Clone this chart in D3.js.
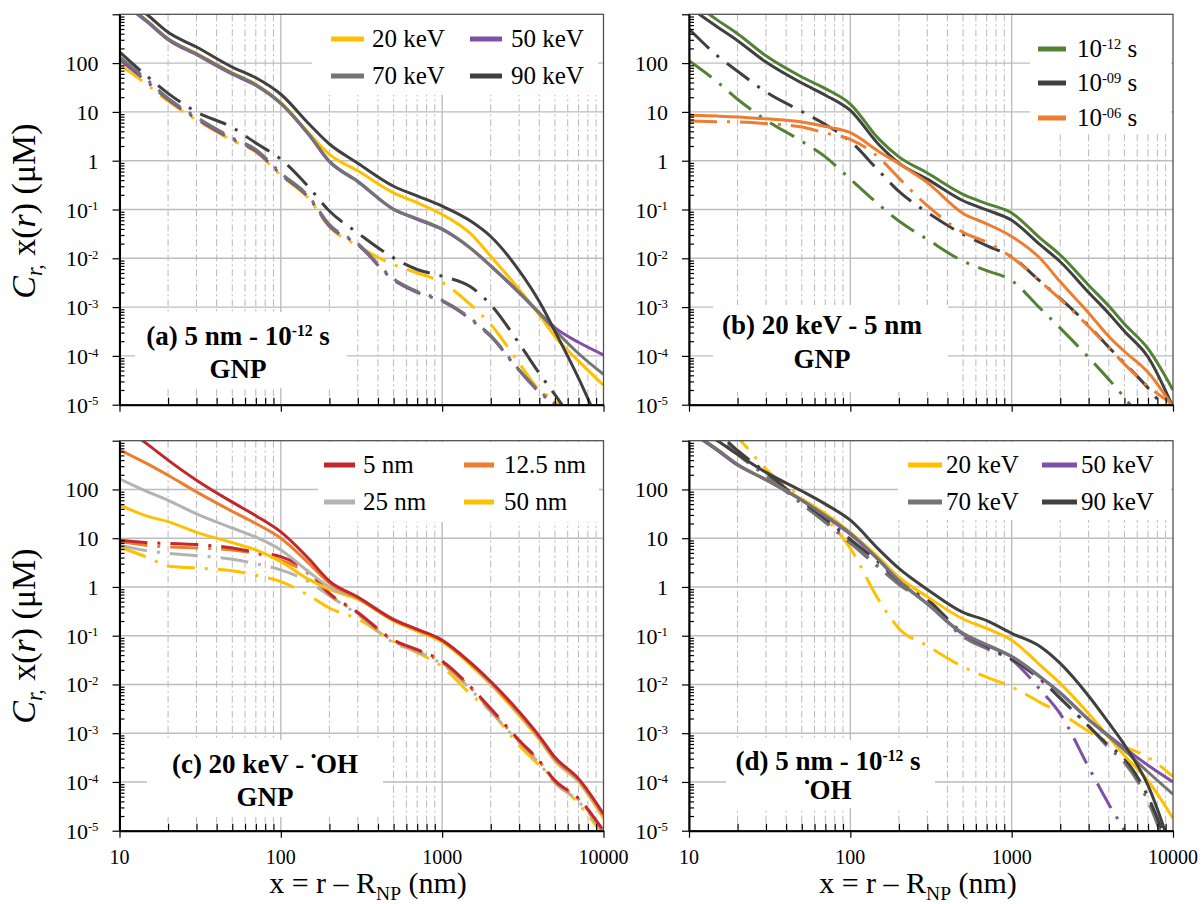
<!DOCTYPE html>
<html><head><meta charset="utf-8">
<script src="https://cdn.jsdelivr.net/npm/d3@7"></script>
</head><body style="margin:0;background:#fff">
<svg id="chart" width="1201" height="904"></svg>
<script>
// ---------------- DATA ----------------
const xValues = [10, 15, 20, 30, 50, 70, 100, 150, 200, 300, 500, 700, 1000, 1500, 2000, 3000, 4000, 5000, 7000, 10000];
const xTickValues = [10, 100, 1000, 10000];
const xTickLabels = ["10", "100", "1000", "10000"];
const yTickValues = [1e-5, 1e-4, 1e-3, 1e-2, 1e-1, 1, 10, 100];
const yTickLabels = [["10","-5"], ["10","-4"], ["10","-3"], ["10","-2"], ["10","-1"], ["1"], ["10"], ["100"]];

// (a) 5 nm - 1e-12 s, GNP : energies
const aSolid20 = [2000, 710, 316, 158, 63, 37, 15.5, 3.6, 1.35, 0.62, 0.22, 0.138, 0.079, 0.032, 0.011, 0.0023, 6.9e-4, 2.5e-4, 7.9e-5, 2.5e-5];
const aSolid50 = [1900, 676, 302, 148, 59, 35, 14.8, 3.3, 0.95, 0.37, 0.10, 0.063, 0.039, 0.016, 0.0069, 0.00195, 7.6e-4, 3.8e-4, 1.9e-4, 1.05e-4];
const aSolid70 = [2000, 708, 316, 155, 62, 36, 15.1, 3.4, 0.98, 0.38, 0.102, 0.065, 0.040, 0.0162, 0.0071, 0.0020, 7.6e-4, 3.4e-4, 1.12e-4, 4.2e-5];
const aSolid90 = [2690, 955, 427, 214, 83, 50, 23, 5.6, 2.2, 0.89, 0.30, 0.19, 0.117, 0.058, 0.028, 0.0056, 0.0013, 3.2e-4, 3.5e-5, 2.5e-6];
const aDash20 = [93, 35, 16.6, 6.8, 2.6, 1.5, 0.50, 0.162, 0.044, 0.018, 0.0074, 0.0050, 0.0032, 0.00112, 4.4e-4, 7.1e-5, 2.0e-5, 1.26e-5, 4e-6, 1e-6];
const aDash50 = [117, 40, 17.8, 7.2, 2.75, 1.58, 0.52, 0.17, 0.046, 0.019, 0.0036, 0.0020, 0.00132, 5.6e-4, 2.5e-4, 5.0e-5, 1.8e-5, 1.0e-5, 3.2e-6, 1e-6];
const aDash70 = [135, 44, 19, 7.8, 2.95, 1.7, 0.56, 0.18, 0.049, 0.020, 0.0038, 0.0021, 0.00138, 5.9e-4, 2.6e-4, 5.2e-5, 1.9e-5, 1.05e-5, 3.2e-6, 1e-6];
const aDash90 = [170, 52, 24, 10, 4.8, 2.3, 1.07, 0.28, 0.093, 0.033, 0.0102, 0.0059, 0.0043, 0.0026, 0.00112, 1.8e-4, 4.4e-5, 1.6e-5, 3.2e-6, 6.3e-7];

// (b) 20 keV - 5 nm, GNP : times
const bSolid12 = [2000, 760, 400, 141, 52, 30, 14.5, 2.8, 1.2, 0.56, 0.204, 0.132, 0.085, 0.026, 0.0117, 0.0028, 0.00105, 4.5e-4, 1.41e-4, 2.0e-5];
const bSolid09 = [1410, 550, 288, 105, 39, 22, 10.7, 2.14, 0.89, 0.42, 0.151, 0.098, 0.060, 0.019, 0.0085, 0.0020, 7.4e-4, 3.2e-4, 9.5e-5, 8.9e-6];
const bSolid06 = [8.5, 8.2, 7.9, 7.2, 6.2, 5.0, 3.76, 1.55, 0.87, 0.355, 0.083, 0.051, 0.028, 0.010, 0.0033, 7.6e-4, 2.5e-4, 1.23e-4, 4.6e-5, 8.9e-6];
const bDash12 = [112, 41, 18.2, 6.8, 2.5, 1.2, 0.42, 0.126, 0.058, 0.0245, 0.0087, 0.0056, 0.0035, 9.5e-4, 3.7e-4, 9.3e-5, 3.3e-5, 1.4e-5, 3.2e-6, 5e-7];
const bDash09 = [500, 141, 68, 25.7, 10.2, 5.5, 2.5, 0.62, 0.234, 0.087, 0.031, 0.0182, 0.0107, 0.0034, 0.00151, 4.2e-4, 1.51e-4, 7.1e-5, 2.2e-5, 5e-6];
const bDash06 = [6.5, 6.3, 6.2, 5.75, 4.9, 3.7, 2.75, 1.17, 0.44, 0.12, 0.034, 0.0214, 0.0105, 0.0034, 0.00145, 4.0e-4, 1.48e-4, 6.8e-5, 2.4e-5, 1.0e-5];

// (c) 20 keV - OH, GNP : radii
const cSolid5 = [2240, 830, 400, 155, 55, 29, 13.5, 3.7, 1.32, 0.62, 0.214, 0.135, 0.081, 0.028, 0.0115, 0.00275, 8.7e-4, 3.2e-4, 1.17e-4, 2.2e-5];
const cSolid12 = [650, 330, 195, 89, 35.5, 20, 10, 3.0, 1.2, 0.59, 0.209, 0.132, 0.079, 0.027, 0.011, 0.0026, 8.3e-4, 3.0e-4, 1.12e-4, 2.1e-5];
const cSolid25 = [166, 89, 60, 31.6, 16.2, 10.5, 5.75, 2.0, 1.0, 0.60, 0.219, 0.135, 0.081, 0.0275, 0.0107, 0.0025, 7.9e-4, 2.8e-4, 1.05e-4, 2.0e-5];
const cSolid50 = [48, 28, 21.9, 13.2, 8.1, 5.75, 3.3, 1.41, 0.89, 0.56, 0.20, 0.123, 0.074, 0.025, 0.010, 0.0023, 7.4e-4, 2.7e-4, 1.0e-4, 1.8e-5];
const cDash5 = [9.1, 8.1, 7.8, 7.4, 6.3, 5.1, 4.2, 2.0, 0.74, 0.30, 0.081, 0.052, 0.030, 0.0089, 0.0032, 7.2e-4, 2.7e-4, 1.07e-4, 4.6e-5, 1.0e-5];
const cDash12 = [8.5, 7.1, 6.6, 6.3, 5.75, 4.8, 3.55, 1.78, 0.71, 0.29, 0.078, 0.050, 0.028, 0.0085, 0.0030, 6.9e-4, 2.6e-4, 1.02e-4, 4.4e-5, 9.5e-6];
const cDash25 = [7.2, 5.5, 4.9, 4.4, 3.7, 3.0, 2.24, 1.26, 0.66, 0.27, 0.072, 0.047, 0.026, 0.0079, 0.0028, 6.5e-4, 2.4e-4, 9.5e-5, 4.0e-5, 8.9e-6];
const cDash50 = [6.6, 4.0, 2.7, 2.45, 2.14, 1.74, 1.29, 0.66, 0.37, 0.22, 0.076, 0.045, 0.023, 0.0063, 0.0028, 5.6e-4, 2.2e-4, 1.1e-4, 3.6e-5, 7.9e-6];

// (d) 5 nm - 1e-12 s, OH : energies
const dSolid20 = [1580, 660, 316, 158, 63, 32, 13.2, 4.0, 1.58, 0.63, 0.22, 0.141, 0.081, 0.025, 0.0105, 0.0025, 8.3e-4, 3.5e-4, 1.05e-4, 1.8e-5];
const dSolid50 = [1580, 630, 316, 158, 60, 28, 12, 3.55, 1.32, 0.45, 0.107, 0.063, 0.037, 0.0141, 0.0066, 0.0019, 8.9e-4, 5.0e-4, 2.2e-4, 1.0e-4];
const dSolid70 = [1660, 660, 330, 158, 60, 29, 12.6, 3.6, 1.35, 0.45, 0.112, 0.066, 0.038, 0.0145, 0.0068, 0.0019, 8.5e-4, 4.5e-4, 1.6e-4, 5.6e-5];
const dSolid90 = [2240, 1000, 525, 224, 93, 50, 23.4, 5.9, 2.4, 0.89, 0.30, 0.204, 0.112, 0.060, 0.027, 0.0058, 0.00162, 5.8e-4, 8.5e-5, 3.2e-6];
const dDash20 = [7900, 2800, 1170, 263, 66, 26, 6.2, 0.54, 0.141, 0.062, 0.023, 0.0141, 0.0089, 0.0043, 0.0026, 0.0011, 6.6e-4, 5.2e-4, 3.2e-4, 1.29e-4];
const dDash50 = [4000, 1410, 560, 200, 52, 22, 8.3, 2.6, 1.17, 0.5, 0.1, 0.056, 0.032, 0.0079, 0.0025, 2.0e-4, 3.5e-5, 1.0e-5, 1e-6, 1e-7];
const dDash70 = [4000, 1320, 525, 190, 50, 21, 7.9, 2.5, 1.12, 0.48, 0.095, 0.054, 0.032, 0.0126, 0.0052, 0.0014, 5.0e-4, 2.5e-4, 4.0e-5, 1.6e-6];
const dDash90 = [4500, 1500, 630, 224, 58, 25, 9.5, 3.2, 1.32, 0.56, 0.112, 0.060, 0.033, 0.0132, 0.0052, 0.0014, 5.6e-4, 3.0e-4, 5.0e-5, 2.5e-6];

// ---------------- STYLE / LAYOUT ----------------
const FONT = "'Liberation Serif'";
const COL = {gold:"#FFC000", purple:"#7E50A6", grey:"#747474", dark:"#404040", green:"#548235", orange:"#ED7D31", red:"#C0282D", light:"#B3B3B3"};
const DASHDOT = "28,10,3,10";
const NOTE_SIZE = 27;

const panels = [
  {x0:119.5, x1:603.5, y0:14.3, y1:404.7, xLabels:false, yTitle:true, yTitleY:211,
   series:[[aDash20,"gold",1],[aDash50,"purple",1],[aDash70,"grey",1],[aDash90,"dark",1],
           [aSolid20,"gold",0],[aSolid50,"purple",0],[aSolid70,"grey",0],[aSolid90,"dark",0]],
   legendBox:[312,15,286,80],
   legend:[{p:[{t:"20 keV"}],c:"gold",x:331,y:39,len:33,gap:8},{p:[{t:"50 keV"}],c:"purple",x:470,y:39,len:32,gap:9},
           {p:[{t:"70 keV"}],c:"grey",x:331,y:76,len:33,gap:8},{p:[{t:"90 keV"}],c:"dark",x:470,y:76,len:32,gap:9}],
   noteBox:[135,312,212,76], noteX:238,
   note:[{y:345,p:[{t:"(a) 5 nm - 10"},{t:"-12",sup:1},{t:" s"}]},{y:378,p:[{t:"GNP"}]}]},
  {x0:689, x1:1173, y0:14.3, y1:404.7, xLabels:false, yTitle:false,
   series:[[bDash12,"green",1],[bDash09,"dark",1],[bDash06,"orange",1],
           [bSolid12,"green",0],[bSolid09,"dark",0],[bSolid06,"orange",0]],
   legendBox:[1030,15,141,118],
   legend:[{p:[{t:"10"},{t:"-12",sup:1},{t:" s"}],c:"green",x:1038,y:49,len:28,gap:11},
           {p:[{t:"10"},{t:"-09",sup:1},{t:" s"}],c:"dark",x:1038,y:83,len:28,gap:11},
           {p:[{t:"10"},{t:"-06",sup:1},{t:" s"}],c:"orange",x:1038,y:118,len:28,gap:11}],
   noteBox:[713,305,235,87], noteX:822,
   note:[{y:334,p:[{t:"(b) 20 keV - 5 nm"}]},{y:368,p:[{t:"GNP"}]}]},
  {x0:119.5, x1:603.5, y0:440.7, y1:830.7, xLabels:true, yTitle:true, yTitleY:636, xTitleX:368,
   series:[[cDash50,"gold",1],[cDash25,"light",1],[cDash12,"orange",1],[cDash5,"red",1],
           [cSolid50,"gold",0],[cSolid25,"light",0],[cSolid12,"orange",0],[cSolid5,"red",0]],
   legendBox:[318,442,281,80],
   legend:[{p:[{t:"5 nm"}],c:"red",x:324,y:465,len:31,gap:8},{p:[{t:"12.5 nm"}],c:"orange",x:464,y:465,len:30,gap:10},
           {p:[{t:"25 nm"}],c:"light",x:324,y:502,len:31,gap:8},{p:[{t:"50 nm"}],c:"gold",x:464,y:502,len:30,gap:10}],
   noteBox:[147,740,236,77], noteX:265,
   note:[{y:773,p:[{t:"(c) 20 keV - "},{t:"•",dot:1},{t:"OH"}]},{y:806,p:[{t:"GNP"}]}]},
  {x0:689, x1:1173, y0:440.7, y1:830.7, xLabels:true, yTitle:false, xTitleX:918,
   series:[[dDash20,"gold",1],[dDash50,"purple",1],[dDash70,"grey",1],[dDash90,"dark",1],
           [dSolid20,"gold",0],[dSolid50,"purple",0],[dSolid70,"grey",0],[dSolid90,"dark",0]],
   legendBox:[898,442,273,78],
   legend:[{p:[{t:"20 keV"}],c:"gold",x:908,y:465,len:34,gap:4},{p:[{t:"50 keV"}],c:"purple",x:1042,y:465,len:35,gap:4},
           {p:[{t:"70 keV"}],c:"grey",x:908,y:502,len:34,gap:4},{p:[{t:"90 keV"}],c:"dark",x:1042,y:502,len:35,gap:4}],
   noteBox:[726,740,209,68], noteX:828,
   note:[{y:770,p:[{t:"(d) 5 nm - 10"},{t:"-12",sup:1},{t:" s"}]},{y:799,p:[{t:"•",dot:1},{t:"OH"}]}]}
];

// ---------------- HELPERS ----------------
const svg = d3.select("#chart");
const gfx = svg.append("g");
function txt() {
  return svg.append("text").attr("font-family", FONT).style("font-family", FONT).attr("fill", "#000");
}
function rich(sel, parts, base) {
  let shift = 0;
  parts.forEach(p => {
    const ts = sel.append("tspan").attr("font-family", FONT).style("font-family", FONT).text(p.t);
    let target = 0, fs = base;
    if (p.sup) { target = -base * 0.33; fs = base * 0.58; }
    if (p.sub) { target = base * 0.22; fs = base * 0.65; }
    if (p.dot) { target = -base * 0.45; fs = base * 0.55; }
    ts.attr("font-size", fs);
    if (target !== shift) { ts.attr("dy", target - shift); shift = target; }
    if (p.it) ts.attr("font-style", "italic");
  });
}

const minorX = [];
[10, 100, 1000].forEach(d => { for (let k = 2; k <= 9; k++) minorX.push(d * k); });
const minorY = [];
[1e-5, 1e-4, 1e-3, 1e-2, 1e-1, 1, 10, 100].forEach(d => { for (let k = 2; k <= 9; k++) minorY.push(d * k); });

panels.forEach((P, i) => {
  const x = d3.scaleLog().domain([10, 10000]).range([P.x0, P.x1]);
  const y = d3.scaleLog().domain([1e-5, 1000]).range([P.y1, P.y0]);
  const g = gfx.append("g");

  g.append("g").selectAll("line").data(minorX).join("line")
    .attr("x1", d => x(d)).attr("x2", d => x(d)).attr("y1", P.y0).attr("y2", P.y1)
    .attr("stroke", "#b8b8b8").attr("stroke-width", 1).attr("stroke-dasharray", "7,3,2,3");
  g.append("g").selectAll("line").data([100, 1000]).join("line")
    .attr("x1", d => x(d)).attr("x2", d => x(d)).attr("y1", P.y0).attr("y2", P.y1)
    .attr("stroke", "#bdbdbd").attr("stroke-width", 1.4);
  g.append("g").selectAll("line").data([1e-4, 1e-3, 1e-2, 0.1, 1, 10, 100]).join("line")
    .attr("x1", P.x0).attr("x2", P.x1).attr("y1", d => y(d)).attr("y2", d => y(d))
    .attr("stroke", "#bdbdbd").attr("stroke-width", 1.4);

  [P.legendBox, P.noteBox].forEach(b => {
    g.append("rect").attr("x", b[0]).attr("y", b[1]).attr("width", b[2]).attr("height", b[3]).attr("fill", "#fff");
  });

  const clipId = "clip" + i;
  svg.append("clipPath").attr("id", clipId).append("rect")
    .attr("x", P.x0).attr("y", P.y0).attr("width", P.x1 - P.x0).attr("height", P.y1 - P.y0);
  const line = d3.line().x(d => x(d[0])).y(d => y(d[1])).curve(d3.curveMonotoneX);
  const dg = g.append("g").attr("clip-path", `url(#${clipId})`);
  P.series.forEach(([vals, c, dashed]) => {
    dg.append("path").datum(xValues.map((xv, k) => [xv, vals[k]]))
      .attr("d", line).attr("fill", "none").attr("stroke", COL[c]).attr("stroke-width", 3)
      .attr("stroke-dasharray", dashed ? DASHDOT : null);
  });

  g.append("rect").attr("x", P.x0).attr("y", P.y0).attr("width", P.x1 - P.x0).attr("height", P.y1 - P.y0)
    .attr("fill", "none").attr("stroke", "#505050").attr("stroke-width", 1.3);

  const xa = g.append("g").attr("transform", `translate(0,${P.y1})`)
    .call(d3.axisBottom(x).tickValues(xTickValues).tickSize(7).tickSizeOuter(0).tickFormat(""));
  const xm = g.append("g").attr("transform", `translate(0,${P.y1})`)
    .call(d3.axisBottom(x).tickValues(minorX).tickSize(-7).tickSizeOuter(0).tickFormat(""));
  xm.select(".domain").remove();
  const ya = g.append("g").attr("transform", `translate(${P.x0},0)`)
    .call(d3.axisLeft(y).tickValues(yTickValues.concat([1000])).tickSize(7).tickSizeOuter(0).tickFormat(""));
  const ym = g.append("g").attr("transform", `translate(${P.x0},0)`)
    .call(d3.axisLeft(y).tickValues(minorY).tickSize(-5).tickSizeOuter(0).tickFormat(""));
  ym.select(".domain").remove();
  [xa, ya].forEach(a => a.select(".domain").attr("stroke", "#000").attr("stroke-width", 2));
  [xa, xm, ya, ym].forEach(a => a.selectAll(".tick line").attr("stroke", "#000").attr("stroke-width", 1.2));

  yTickValues.forEach((v, k) => {
    const t = txt().attr("x", P.x0 - 21).attr("y", y(v) + 8).attr("text-anchor", "end").attr("font-size", 22);
    const lab = yTickLabels[k];
    rich(t, lab.length > 1 ? [{t: lab[0]}, {t: lab[1], sup: 1}] : [{t: lab[0]}], 22);
  });
  if (P.xLabels) {
    xTickValues.forEach((v, k) => {
      txt().attr("x", x(v)).attr("y", P.y1 + 33).attr("text-anchor", "middle")
        .attr("font-size", 20).text(xTickLabels[k]);
    });
    const xt = txt().attr("x", P.xTitleX).attr("y", 893).attr("text-anchor", "middle").attr("font-size", 30);
    rich(xt, [{t: "x = r – R"}, {t: "NP", sub: 1}, {t: " (nm)"}], 30);
  }
  if (P.yTitle) {
    const yt = txt().attr("transform", `translate(35,${P.yTitleY}) rotate(-90)`)
      .attr("text-anchor", "middle").attr("font-size", 34);
    rich(yt, [{t: "C", it: 1}, {t: "r,", sub: 1, it: 1}, {t: " x("}, {t: "r", it: 1}, {t: ")  (μM)"}], 34);
  }

  P.legend.forEach(it => {
    g.append("line").attr("x1", it.x).attr("x2", it.x + it.len).attr("y1", it.y).attr("y2", it.y)
      .attr("stroke", COL[it.c]).attr("stroke-width", 5);
    const t = txt().attr("x", it.x + it.len + it.gap).attr("y", it.y + 8).attr("font-size", 25);
    rich(t, it.p, 25);
  });

  P.note.forEach(n => {
    const t = txt().attr("x", P.noteX).attr("y", n.y).attr("text-anchor", "middle")
      .attr("font-size", NOTE_SIZE).attr("font-weight", "bold");
    rich(t, n.p, NOTE_SIZE);
  });
});
</script>
</body></html>
